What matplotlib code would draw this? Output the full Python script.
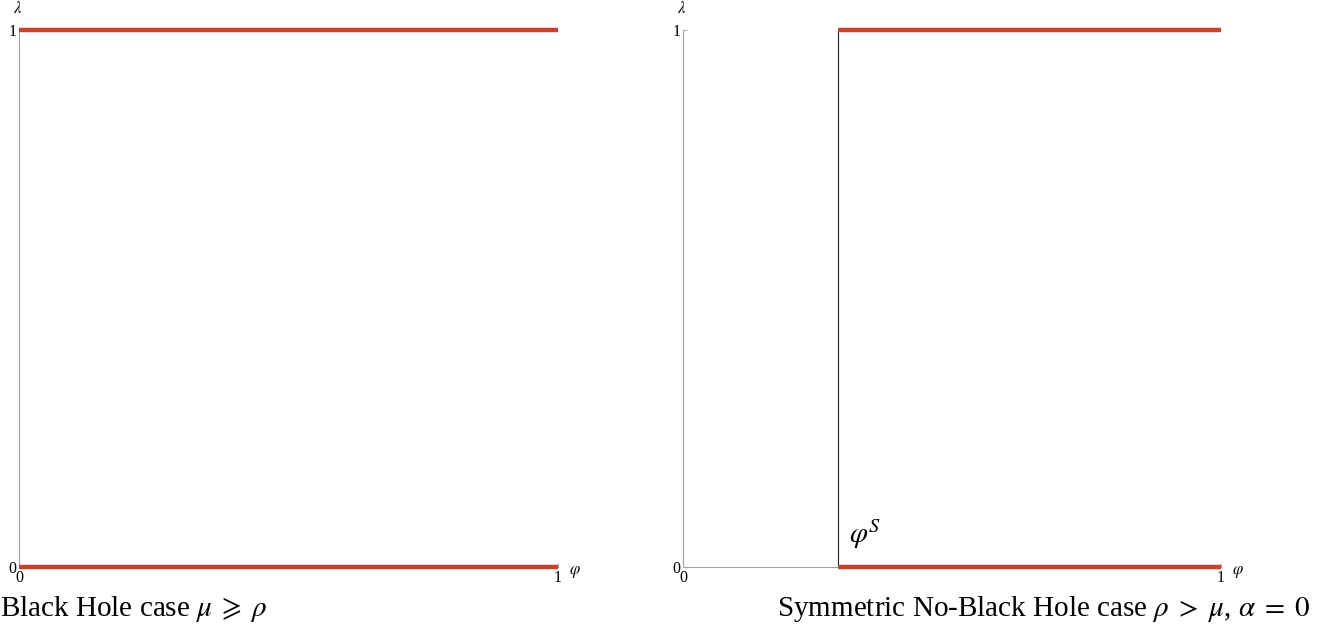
import matplotlib
matplotlib.use("Agg")
import matplotlib.pyplot as plt

plt.rcParams["font.family"] = ["Liberation Serif", "DejaVu Serif"]
plt.rcParams["mathtext.fontset"] = "stix"

# data
phi_s = 0.288
left_x = [0, 1]
right_x = [phi_s, 1]
levels = [0, 1]
ticks = [0, 1]
captions = [r"Black Hole case $\mu\;\geqslant\;\rho$",
            r"Symmetric No-Black Hole case $\rho\;>\;\mu$, $\alpha\;=\;0$"]

red = "#c9402b"
spine_col = "#a0a0a0"

fig = plt.figure(figsize=(13.32, 6.41), dpi=100)
ax1 = fig.add_axes([19 / 1332, 74 / 641, 539 / 1332, 537 / 641])
ax2 = fig.add_axes([683 / 1332, 74 / 641, 538 / 1332, 537 / 641])


def style(ax):
    ax.set_xlim(0, 1)
    ax.set_ylim(0, 1)
    for s in ("top", "right"):
        ax.spines[s].set_visible(False)
    for s in ("left", "bottom"):
        ax.spines[s].set_color(spine_col)
        ax.spines[s].set_linewidth(0.8)
    ax.set_xticks(ticks)
    ax.set_yticks(ticks)
    ax.tick_params(direction="in", length=3, width=0.6, color=spine_col,
                   labelsize=11.5, pad=2)
    ax.text(-0.002, 1.025, r"$\lambda$", transform=ax.transAxes,
            ha="center", va="bottom", fontsize=12)
    ax.text(1.032, -0.01, r"$\varphi$", transform=ax.transAxes,
            ha="center", va="center", fontsize=12)


for ax in (ax1, ax2):
    style(ax)

for y in levels:
    ax1.plot(left_x, [y, y], color=red, lw=3.2, clip_on=False,
             solid_capstyle="butt", zorder=5)
    ax2.plot(right_x, [y, y], color=red, lw=3.2, clip_on=False,
             solid_capstyle="butt", zorder=5)

ax2.plot([phi_s, phi_s], levels, color="#222222", lw=0.8, clip_on=False, zorder=4)
ax2.text(phi_s + 0.02, 0.03, r"$\varphi^S$", fontsize=21, ha="left", va="bottom")

fig.text(0.0, 0.027, captions[0], fontsize=21, ha="left", va="bottom")
fig.text(0.984, 0.027, captions[1], fontsize=21, ha="right", va="bottom")

fig.savefig("out.png", dpi=100)
